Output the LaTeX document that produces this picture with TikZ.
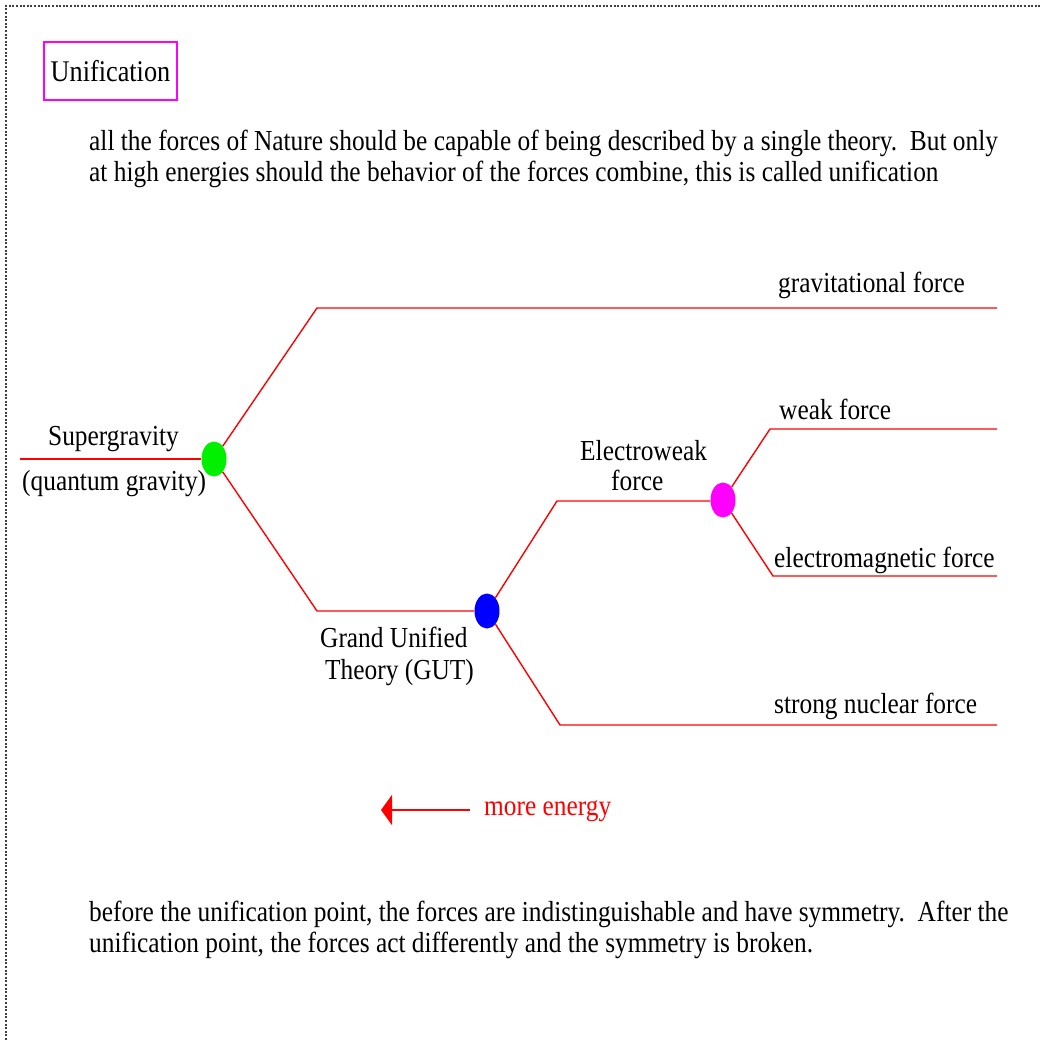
\documentclass[tikz,border=0pt]{standalone}
\usepackage{fontspec}
\setmainfont{Liberation Serif}[FakeStretch=0.875]
\usetikzlibrary{arrows.meta,shapes.geometric}
\definecolor{pmag}{RGB}{255,0,255}
\definecolor{pgreen}{RGB}{0,240,0}
\definecolor{pblue}{RGB}{0,0,255}
\definecolor{pred}{RGB}{255,0,0}
\begin{document}
\begin{tikzpicture}[x=1pt,y=-1pt,
  border/.style={black!75, line width=1.4pt, dash pattern=on 2pt off 1.6pt},
  branch/.style={pred, line width=1.4pt},
  dot/.style={ellipse, minimum width=25pt, minimum height=35pt, inner sep=0pt},
  txt/.style={font=\fontsize{29pt}{32pt}\selectfont, inner sep=0pt, anchor=base west},
  titlebox/.style={draw=pmag, line width=2pt, minimum width=133pt, minimum height=58pt,
    inner sep=0pt, font=\fontsize{30pt}{32pt}\selectfont},
  energy/.style={pred, line width=2pt, -{Triangle[length=11pt,width=30pt]}}
]
\useasboundingbox (0,0) rectangle (1041,1040);
\draw[border] (6,1040) -- (6,6) -- (1041,6);

% title
\node[titlebox] (title) at (110.5,71) {Unification};

% upper paragraph
\node[txt] (p1) at (89,151) {all the forces of Nature should be capable of being described by a single theory.\ \ But only};
\node[txt] (p2) at (89,182) {at high energies should the behavior of the forces combine, this is called unification};

% points
\coordinate (s0) at (20,459);
\coordinate (gu) at (317,308);
\coordinate (ge) at (997,308);
\coordinate (gl) at (317,611);
\coordinate (eu) at (557,501);
\coordinate (sl) at (560,725);
\coordinate (se) at (997,725);
\coordinate (wu) at (770,429);
\coordinate (we) at (997,429);
\coordinate (el) at (773,576);
\coordinate (ee) at (997,576);

\node[dot, fill=pgreen] (g) at (214,459) {};
\node[dot, fill=pblue] (b) at (487,611) {};
\node[dot, fill=pmag] (m) at (723,500) {};

\draw[branch] (s0) -- (g);
\draw[branch] (g) -- (gu) -- (ge);
\draw[branch] (g) -- (gl) -- (b);
\draw[branch] (b) -- (eu) -- (eu -| m.west);
\draw[branch] (b) -- (sl) -- (se);
\draw[branch] (m) -- (wu) -- (we);
\draw[branch] (m) -- (el) -- (ee);

% labels
\node[txt] (lgrav) at (778,293) {gravitational force};
\node[txt] (lweak) at (779,419) {weak force};
\node[txt] (lem) at (774,567) {electromagnetic force};
\node[txt] (lstrong) at (774,713) {strong nuclear force};
\node[txt] (lsg1) at (48,445) {Supergravity};
\node[txt] (lsg2) at (22,490) {(quantum gravity)};
\node[txt] (lew1) at (580,460) {Electroweak};
\node[txt] (lew2) at (611,490) {force};
\node[txt] (lgut1) at (320,647) {Grand Unified};
\node[txt] (lgut2) at (325,679) {Theory (GUT)};

% energy arrow
\node[txt, text=pred] (me) at (484,815) {more energy};
\coordinate (a1) at (470,810);
\coordinate (a0) at (381,810);
\draw[energy] (a1) -- (a0);

% lower paragraph
\node[txt] (q1) at (89,921) {before the unification point, the forces are indistinguishable and have symmetry.\ \ After the};
\node[txt] (q2) at (89,952) {unification point, the forces act differently and the symmetry is broken.};
\end{tikzpicture}
\end{document}
